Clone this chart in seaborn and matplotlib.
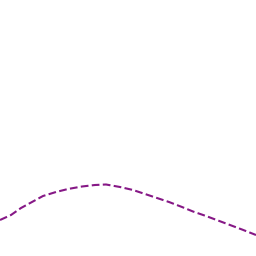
import matplotlib
matplotlib.use("Agg")
import matplotlib.pyplot as plt
import seaborn as sns
import pandas as pd

# values (x position, height above bottom)
xs = [0, 11, 21, 32, 43, 56, 68, 82, 95, 106, 120, 133, 145, 157, 169,
      182, 193, 206, 218, 230, 242, 256]
ys = [36, 41, 48, 54, 60, 64, 67, 69.5, 71, 71.5, 69, 66, 62, 58, 54,
      49, 44.5, 40, 35.5, 31, 26.5, 21]

df = pd.DataFrame({"x": xs, "y": ys})

sns.set_theme(style="white")
fig = plt.figure(figsize=(2.56, 2.56), dpi=100)
ax = fig.add_axes([0, 0, 1, 1])
sns.lineplot(data=df, x="x", y="y", ax=ax, color="#861886",
             linestyle="--", linewidth=1.5, sort=False)
ax.set_xlim(0, 256)
ax.set_ylim(0, 256)
ax.axis("off")
fig.savefig("out.png", dpi=100, facecolor="white")
